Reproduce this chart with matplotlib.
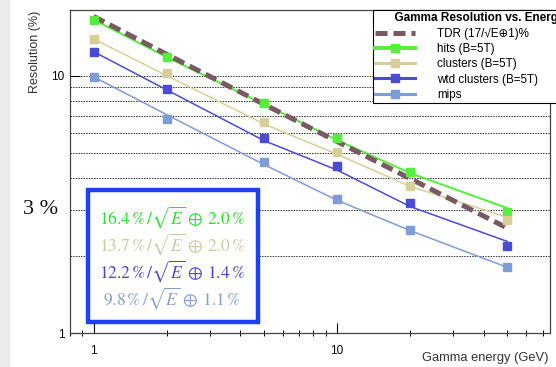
import matplotlib
matplotlib.use("Agg")
import matplotlib.pyplot as plt
from matplotlib.patches import Rectangle

# Energies of the measured points (GeV)
energy = [1, 2, 5, 10, 20, 50]

# Measured resolution (%) - markers
hits_pts = [16.5, 11.8, 7.85, 5.72, 4.24, 2.96]
clus_pts = [13.9, 10.2, 6.61, 5.03, 3.73, 2.75]
wtd_pts = [12.4, 8.9, 5.71, 4.44, 3.21, 2.18]
mips_pts = [9.9, 6.77, 4.62, 3.31, 2.52, 1.81]

# Fitted curves at the same energies
hits_fit = [16.5, 11.8, 7.75, 5.62, 4.18, 3.06]
clus_fit = [13.9, 10.0, 6.5, 4.95, 3.71, 2.82]
wtd_fit = [12.4, 8.8, 5.6, 4.3, 3.10, 2.27]
mips_fit = [9.9, 7.05, 4.52, 3.28, 2.5, 1.8]

# TDR reference curve
tdr_vals = [17.0, 12.1, 7.75, 5.55, 3.98, 2.56]

labels = ["TDR (17/\u221aE\u22951)%", "hits (B=5T)", "clusters (B=5T)",
          "wtd clusters (B=5T)", "mips"]
colors = ["#7a5a62", "#55ee3c", "#d6cf98", "#4b4bd6", "#7e9cd6"]
fit_texts = [r"$16.4\,\%\,/\sqrt{E}\,\oplus\,2.0\,\%$",
             r"$13.7\,\%\,/\sqrt{E}\,\oplus\,2.0\,\%$",
             r"$12.2\,\%\,/\sqrt{E}\,\oplus\,1.4\,\%$",
             r"$9.8\,\%\,/\sqrt{E}\,\oplus\,1.1\,\%$"]
text_colors = ["#2ee02e", "#cfc89a", "#4a48c8", "#859fd2"]
grid_levels = [1, 2, 3, 4, 5, 6, 7, 8, 9, 10]

plt.rcParams["font.family"] = ["Liberation Sans", "DejaVu Sans"]
plt.rcParams["mathtext.fontset"] = "stix"

W, H = 556, 367
fig = plt.figure(figsize=(W / 100, H / 100), dpi=100)
ax = fig.add_axes([70 / W, 1 - 333 / H, 480 / W, 323 / H])

# soft gray slide border on the left
fig.patches.append(Rectangle((0, 0), 10 / W, 1, transform=fig.transFigure,
                             facecolor="#ececec", edgecolor="none", zorder=0))

ax.set_xscale("log")
ax.set_yscale("log")
ax.set_xlim(0.8, 75)
ax.set_ylim(1, 18)

for lv in grid_levels:
    ax.axhline(lv, color="#333333", lw=0.7, ls=(0, (1.5, 1.2)), zorder=1)

series = [(hits_pts, hits_fit, 1.4), (clus_pts, clus_fit, 1.1),
          (wtd_pts, wtd_fit, 1.1), (mips_pts, mips_fit, 1.1)]

handles = []
tdr_line, = ax.plot(energy, tdr_vals, color=colors[0], lw=3.6,
                    dashes=(2.4, 1.2), zorder=3)
handles.append(tdr_line)
for (pts, fit, lw), col in zip(series, colors[1:]):
    ax.plot(energy, fit, color=col, lw=lw, zorder=2)
    ax.plot(energy, pts, ls="none", marker="s", ms=5.2, color=col, zorder=4)
    h, = ax.plot([], [], color=col, lw=lw * 2, marker="s", ms=5.2)
    handles.append(h)

# ticks
ax.tick_params(axis="x", which="major", direction="in", length=7, width=0.8,
               pad=9, labelsize=8.5, top=False)
ax.tick_params(axis="x", which="minor", direction="inout", length=4, width=0.7, top=False)
ax.tick_params(axis="y", which="major", direction="in", length=7, width=0.8,
               pad=4, labelsize=8.5, right=False)
ax.tick_params(axis="y", which="minor", length=0)
ax.set_xticks([1, 10])
ax.set_xticklabels(["1", "10"])
ax.set_yticks([1, 10])
ax.set_yticklabels(["1", "10"])
for sp in ax.spines.values():
    sp.set_linewidth(0.9)
    sp.set_color("#444444")

fig.text(35 / W, 1 - 52 / H, "Resolution (%)", rotation=90, ha="center",
         va="center", fontsize=9, color="#333333")
fig.text(549 / W, 1 - 358 / H, "Gamma energy (GeV)", ha="right", va="center",
         fontsize=9.3, color="#333333")

leg = ax.legend(handles, labels, loc="upper left",
                bbox_to_anchor=(373 / W, 1 - 10 / H), bbox_transform=fig.transFigure,
                fontsize=8.35, frameon=True, fancybox=False, edgecolor="black",
                framealpha=1, handlelength=3.4, handletextpad=1.9,
                labelspacing=0.28, borderpad=0.2, borderaxespad=0,
                title="      Gamma Resolution vs. Energ          ",
                title_fontproperties={"weight": "bold", "size": 8.5},
                alignment="left")
leg.get_frame().set_linewidth(0.8)
leg.set_zorder(6)

# fit result box
ax.add_patch(Rectangle((88 / W, 1 - 322 / H), 170 / W, 132 / H,
                       transform=fig.transFigure, facecolor="white",
                       edgecolor="#1f3ff5", lw=3.2, clip_on=False, zorder=5))
for i, (txt, col) in enumerate(zip(fit_texts, text_colors)):
    fig.text(172 / W, 1 - (217 + 27 * i) / H, txt, ha="center", va="center",
             fontsize=12.6, color=col, zorder=7)

fig.text(41 / W, 1 - 210 / H, "3 %", ha="center", va="center",
         fontsize=16, family="Liberation Serif", color="#111111")

fig.savefig("out.png", dpi=100)
